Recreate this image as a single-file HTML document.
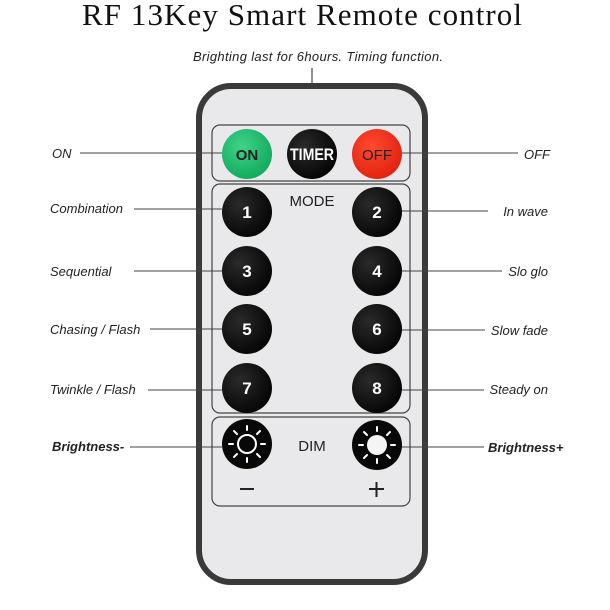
<!DOCTYPE html>
<html><head><meta charset="utf-8"><style>
html,body{margin:0;padding:0;background:#fff;}
svg{display:block;}
.l{font-family:"Liberation Sans",sans-serif;font-style:italic;font-size:13px;fill:#222;}
.b{font-family:"Liberation Sans",sans-serif;font-style:italic;font-weight:bold;font-size:13px;fill:#222;}
.n{font-family:"Liberation Sans",sans-serif;font-weight:bold;font-size:17px;fill:#fff;text-anchor:middle;}
.p{font-family:"Liberation Sans",sans-serif;font-size:15px;fill:#222;text-anchor:middle;}
</style></head><body>
<svg width="610" height="610" viewBox="0 0 610 610" xmlns="http://www.w3.org/2000/svg">
<defs>
<radialGradient id="bk" cx="0.35" cy="0.35" r="0.7"><stop offset="0" stop-color="#2a2a2a"/><stop offset="1" stop-color="#050505"/></radialGradient>
<radialGradient id="gr" cx="0.4" cy="0.35" r="0.7"><stop offset="0" stop-color="#3fd38a"/><stop offset="1" stop-color="#10a85a"/></radialGradient>
<radialGradient id="rd" cx="0.4" cy="0.35" r="0.7"><stop offset="0" stop-color="#ff4a30"/><stop offset="1" stop-color="#e0200e"/></radialGradient>
</defs>
<text x="302" y="25" font-family="Liberation Serif,serif" font-size="31" fill="#111" text-anchor="middle" textLength="440">RF 13Key Smart Remote control</text>
<text x="318" y="61" class="l" font-size="12.5" text-anchor="middle" textLength="250">Brighting last for 6hours. Timing function.</text>
<line x1="312" y1="68" x2="312" y2="130" stroke="#222" stroke-width="1"/>
<rect x="199" y="86" width="226" height="496" rx="32" fill="#e9e8ea" stroke="#3a3a3a" stroke-width="6"/>
<rect x="212" y="125" width="198" height="56" rx="8" fill="none" stroke="#444" stroke-width="1.2"/>
<rect x="212" y="184" width="198" height="229" rx="8" fill="none" stroke="#444" stroke-width="1.2"/>
<rect x="212" y="417" width="198" height="89" rx="8" fill="none" stroke="#444" stroke-width="1.2"/>
<g stroke="#444" stroke-width="1">
<line x1="80" y1="153" x2="222" y2="153"/><line x1="402" y1="153" x2="518" y2="153"/>
<line x1="134" y1="209" x2="222" y2="209"/><line x1="402" y1="211" x2="488" y2="211"/>
<line x1="134" y1="271" x2="222" y2="271"/><line x1="402" y1="271" x2="502" y2="271"/>
<line x1="150" y1="329" x2="222" y2="329"/><line x1="402" y1="330" x2="485" y2="330"/>
<line x1="148" y1="390" x2="222" y2="390"/><line x1="402" y1="390" x2="484" y2="390"/>
<line x1="130" y1="447" x2="222" y2="447"/><line x1="402" y1="447" x2="484" y2="447"/>
</g>
<circle cx="247" cy="154" r="25" fill="url(#gr)"/>
<text x="247" y="160" class="p" font-size="17" fill="#111" font-weight="bold">ON</text>
<circle cx="312" cy="154" r="25" fill="url(#bk)"/>
<text x="312" y="160" class="n" font-size="15" textLength="44" lengthAdjust="spacingAndGlyphs">TIMER</text>
<circle cx="377" cy="154" r="25" fill="url(#rd)"/>
<text x="377" y="160" class="p" font-size="17" fill="#3a0a05">OFF</text>
<text x="312" y="206" class="p">MODE</text>
<g>
<circle cx="247" cy="212" r="25" fill="url(#bk)"/><text x="247" y="218" class="n">1</text>
<circle cx="377" cy="212" r="25" fill="url(#bk)"/><text x="377" y="218" class="n">2</text>
<circle cx="247" cy="271" r="25" fill="url(#bk)"/><text x="247" y="277" class="n">3</text>
<circle cx="377" cy="271" r="25" fill="url(#bk)"/><text x="377" y="277" class="n">4</text>
<circle cx="247" cy="329" r="25" fill="url(#bk)"/><text x="247" y="335" class="n">5</text>
<circle cx="377" cy="329" r="25" fill="url(#bk)"/><text x="377" y="335" class="n">6</text>
<circle cx="247" cy="388" r="25" fill="url(#bk)"/><text x="247" y="394" class="n">7</text>
<circle cx="377" cy="388" r="25" fill="url(#bk)"/><text x="377" y="394" class="n">8</text>
</g>
<circle cx="247" cy="444" r="25" fill="#080808"/>
<circle cx="247" cy="444" r="9" fill="none" stroke="#fff" stroke-width="2"/>
<g stroke="#fff" stroke-width="2" stroke-linecap="round">
<line x1="247" y1="430" x2="247" y2="426"/><line x1="247" y1="458" x2="247" y2="462"/>
<line x1="233" y1="444" x2="229" y2="444"/><line x1="261" y1="444" x2="265" y2="444"/>
<line x1="237" y1="434" x2="234" y2="431"/><line x1="257" y1="454" x2="260" y2="457"/>
<line x1="257" y1="434" x2="260" y2="431"/><line x1="237" y1="454" x2="234" y2="457"/>
</g>
<circle cx="377" cy="445" r="25" fill="#080808"/>
<circle cx="377" cy="445" r="10" fill="#f4f4f4"/>
<g stroke="#fff" stroke-width="2" stroke-linecap="round">
<line x1="377" y1="431" x2="377" y2="427"/><line x1="377" y1="459" x2="377" y2="463"/>
<line x1="363" y1="445" x2="359" y2="445"/><line x1="391" y1="445" x2="395" y2="445"/>
<line x1="367" y1="435" x2="364" y2="432"/><line x1="387" y1="455" x2="390" y2="458"/>
<line x1="387" y1="435" x2="390" y2="432"/><line x1="367" y1="455" x2="364" y2="458"/>
</g>
<text x="312" y="451" class="p">DIM</text>
<line x1="240" y1="489" x2="254" y2="489" stroke="#222" stroke-width="2"/>
<line x1="369" y1="489" x2="384" y2="489" stroke="#222" stroke-width="2"/>
<line x1="376.5" y1="482" x2="376.5" y2="497" stroke="#222" stroke-width="2"/>
<text x="52" y="158" class="l">ON</text>
<text x="524" y="159" class="l">OFF</text>
<text x="50" y="213" class="l">Combination</text>
<text x="50" y="276" class="l">Sequential</text>
<text x="50" y="334" class="l">Chasing / Flash</text>
<text x="50" y="394" class="l">Twinkle / Flash</text>
<text x="52" y="451" class="b">Brightness-</text>
<text x="548" y="216" class="l" text-anchor="end">In wave</text>
<text x="548" y="276" class="l" text-anchor="end">Slo glo</text>
<text x="548" y="335" class="l" text-anchor="end">Slow fade</text>
<text x="548" y="394" class="l" text-anchor="end">Steady on</text>
<text x="488" y="452" class="b">Brightness+</text>
</svg>
</body></html>
